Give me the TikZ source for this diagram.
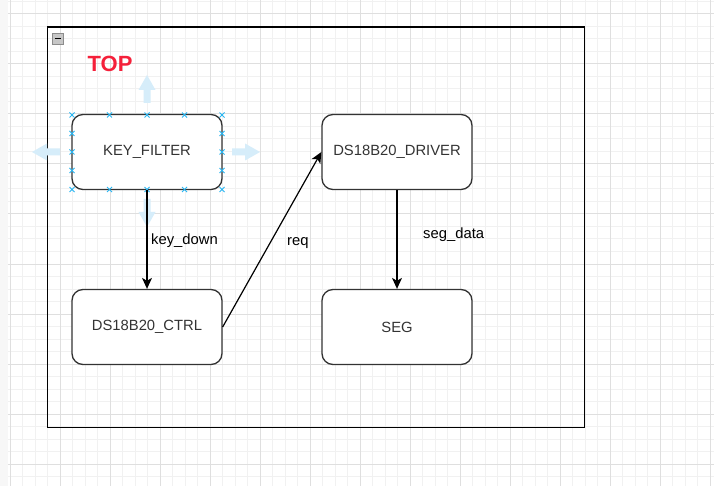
\documentclass[tikz,border=0pt]{standalone}
\usepackage{fontspec}
\setmainfont{Liberation Sans}
\usetikzlibrary{arrows.meta}
\definecolor{gridminor}{RGB}{241,241,241}
\definecolor{gridmajor}{RGB}{223,223,223}
\definecolor{handleblue}{RGB}{41,182,242}
\definecolor{hoverblue}{RGB}{214,237,250}
\definecolor{topred}{RGB}{245,32,58}
\definecolor{boxtext}{RGB}{51,51,51}

\begin{document}
\begin{tikzpicture}[x=1pt,y=-1pt,
    block/.style={draw=boxtext, line width=1.3pt, rounded corners=11pt, fill=white,
      minimum width=150pt, minimum height=75pt, inner sep=0pt, text=boxtext,
      font=\fontsize{14.8}{17}\selectfont},
    flow/.style={line width=1.2pt, -{Stealth[length=11pt,width=10pt,inset=3pt]}},
    lbl/.style={font=\fontsize{14.8}{17}\selectfont, inner sep=0pt},
    handle/.style={handleblue, line width=0.9pt},
    hover/.style={fill=hoverblue, draw=none}]
    \useasboundingbox (0,0) rectangle (714,486);
    \fill[white] (0,0) rectangle (714,486);
    \fill[black!3] (0,0) rectangle (8,486);

    % Grid
    \foreach \gx in {10,22.5,...,710} \draw[gridminor, line width=1pt] (\gx,0) -- (\gx,486);
    \foreach \gy in {1.5,14,...,480} \draw[gridminor, line width=1pt] (8,\gy) -- (714,\gy);
    \foreach \gx in {10,60,...,710} \draw[gridmajor, line width=1pt] (\gx,0) -- (\gx,486);
    \foreach \gy in {14,64,...,464} \draw[gridmajor, line width=1pt] (8,\gy) -- (714,\gy);

    % Container
    \node[draw, line width=1.4pt, minimum width=537pt, minimum height=400pt, inner sep=0pt,
      anchor=north west] (top) at (46.5,26.5) {};
    \draw[black!45, fill=black!22] (52,33) rectangle (63,44);
    \draw[line width=1.6pt] (54.5,38.5) -- (60.5,38.5);
    \node[anchor=base west, inner sep=0pt, text=topred, font=\fontsize{22}{26}\selectfont\bfseries]
      (toplabel) at (87.5,71.5) {TOP};

    % Hover arrows round the selected block
    \foreach \cx/\cy/\ang in {147/89/90, 46/152/180, 246/152/0, 147/213/270}
      \fill[hover, shift={(\cx,\cy)}, rotate=\ang]
        (14,0) -- (-1,8.5) -- (-1,3.5) -- (-14,3.5) -- (-14,-3.5) -- (-1,-3.5) -- (-1,-8.5) -- cycle;

    % Blocks
    \node[block] (keyf) at (147,152) {KEY\_FILTER};
    \node[block] (ctrl) at (147,327) {DS18B20\_CTRL};
    \node[block] (drv) at (397,152) {DS18B20\_DRIVER};
    \node[block] (seg) at (397,327) {SEG};

    % Selection handles
    \foreach \hx in {72,109.5,147,184.5,222}
      \foreach \hy in {115,189.5}
        \draw[handle] (\hx-2.5,\hy-2.5) -- (\hx+2.5,\hy+2.5) (\hx-2.5,\hy+2.5) -- (\hx+2.5,\hy-2.5);
    \foreach \hy in {133.5,152,170.5}
      \foreach \hx in {72,222}
        \draw[handle] (\hx-2.5,\hy-2.5) -- (\hx+2.5,\hy+2.5) (\hx-2.5,\hy+2.5) -- (\hx+2.5,\hy-2.5);

    % Signals
    \draw[flow] (keyf.south) -- (ctrl.north);
    \draw[flow] (ctrl.east) -- (drv.west);
    \draw[flow] (drv.south) -- (seg.north);
    \node[lbl, anchor=base west] (kd) at (151,244.5) {key\_down};
    \node[lbl, anchor=base west] (rq) at (287,245) {req};
    \node[lbl, anchor=base west] (sd) at (423,238.5) {seg\_data};
\end{tikzpicture}
\end{document}
